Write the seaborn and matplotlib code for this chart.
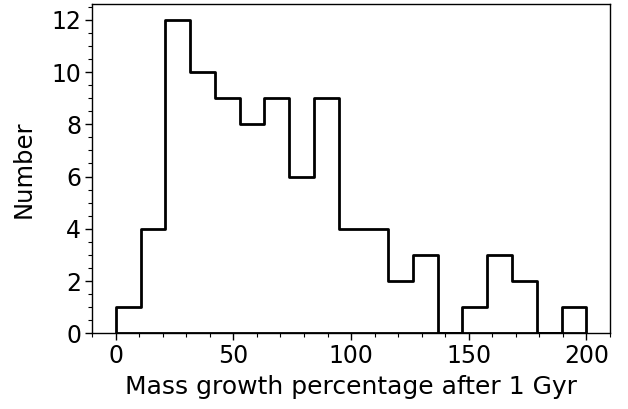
import numpy as np
import pandas as pd
import matplotlib
matplotlib.use("Agg")
import matplotlib.pyplot as plt
from matplotlib.ticker import MultipleLocator
import seaborn as sns

# bin edges and counts
bin_edges = list(np.linspace(0, 200, 20))
counts = [1, 4, 12, 10, 9, 8, 9, 6, 9, 4, 4, 2, 3, 0, 1, 3, 2, 0, 1]
bin_centers = [(a + b) / 2 for a, b in zip(bin_edges[:-1], bin_edges[1:])]

df = pd.DataFrame({"growth": bin_centers, "n": counts})

sns.set_style("ticks")
plt.rcParams['font.family'] = ['DejaVu Sans']
plt.rcParams['text.color'] = 'black'
plt.rcParams['axes.labelcolor'] = 'black'
plt.rcParams['xtick.color'] = 'black'
plt.rcParams['ytick.color'] = 'black'

fig, ax = plt.subplots(figsize=(6.28, 4.09), dpi=100)
sns.histplot(data=df, x="growth", weights="n", bins=bin_edges, element="step",
             fill=True, color="black", linewidth=2, ax=ax)
for coll in ax.collections:
    coll.set_facecolor("none")
    coll.set_edgecolor("black")
    coll.set_linewidth(2)

ax.set_xlim(-10, 210)
ax.set_ylim(0, 12.6)
ax.xaxis.set_major_locator(MultipleLocator(50))
ax.xaxis.set_minor_locator(MultipleLocator(10))
ax.yaxis.set_major_locator(MultipleLocator(2))
ax.yaxis.set_minor_locator(MultipleLocator(0.5))
ax.tick_params(axis="both", which="major", labelsize=17, length=5, width=1,
               pad=3)
ax.tick_params(axis="both", which="minor", length=3, width=0.8)
ax.set_xlabel("Mass growth percentage after 1 Gyr", fontsize=18, labelpad=5)
ax.set_ylabel("Number", fontsize=17.5, labelpad=11)
for s in ax.spines.values():
    s.set_linewidth(1)
    s.set_color("black")

fig.subplots_adjust(left=0.147, right=0.971, top=0.99, bottom=0.185)
fig.savefig("out.png", dpi=100)
